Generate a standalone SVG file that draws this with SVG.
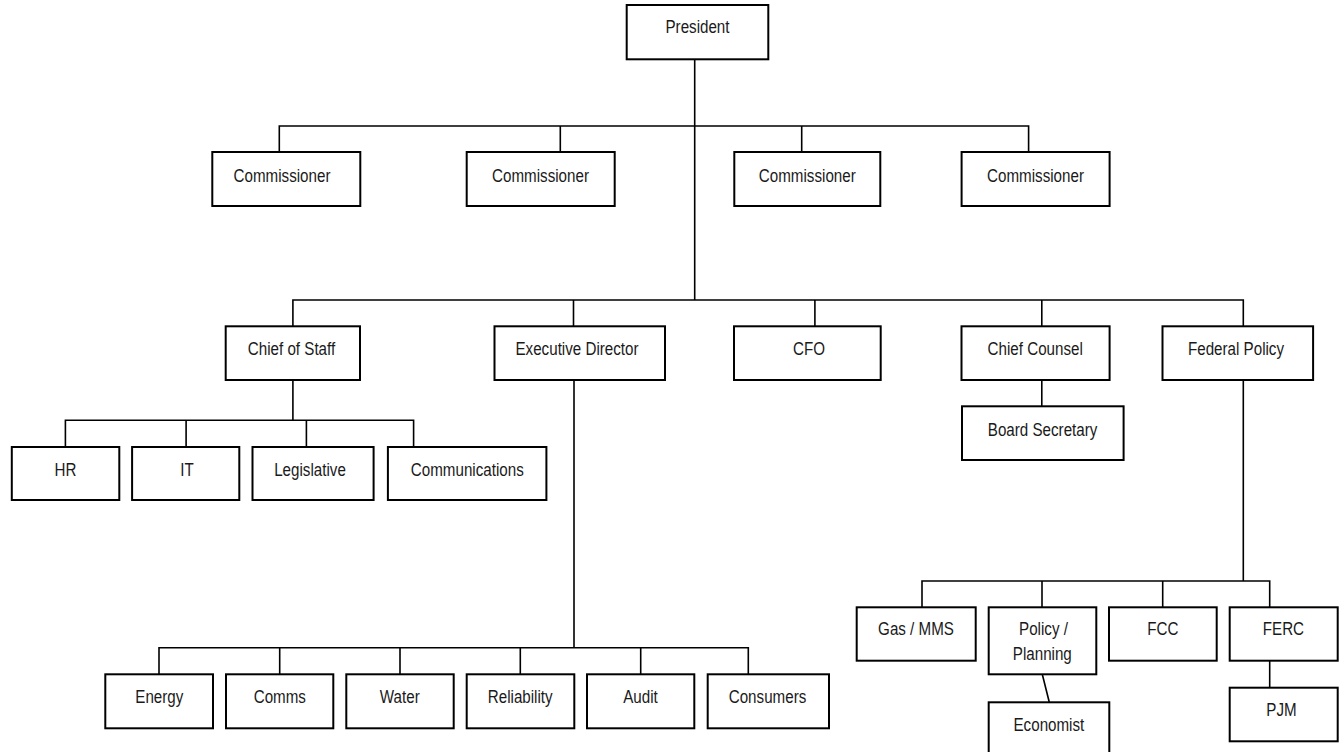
<svg xmlns="http://www.w3.org/2000/svg" width="1342" height="752" viewBox="0 0 1342 752">
<style>
rect{fill:#fff;stroke:#000;stroke-width:2}
#connectors path{fill:none;stroke:#000;stroke-width:1.6}
text{font-family:"Liberation Sans",Arial,sans-serif;font-size:18.5px;text-anchor:middle;fill:#1a1a1a}
</style>
<rect x="0" y="0" width="1342" height="752" style="stroke:none"/>
<g id="connectors">
<path d="M694.7 59.3V300M279.3 152V126H1028.6V152M560.3 126V152M801.7 126V152"/>
<path d="M292.9 326.3V300H1243.3V326.3M573.5 300V326.3M814.9 300V326.3M1041.8 300V326.3"/>
<path d="M292.9 380V420.3M65.4 447V420.3H413.6V447M186.1 420.3V447M306.4 420.3V447"/>
<path d="M574 380V647.7M159 674.3V647.7H748.3V674.3M279.7 647.7V674.3M400 647.7V674.3M520.3 647.7V674.3M640.7 647.7V674.3"/>
<path d="M1041.8 380V406.3"/>
<path d="M1243.3 380V581M922 607.3V581H1269.7V607.3M1042 581V607.3M1162.7 581V607.3"/>
<path d="M1269.7 660.7V687.7"/>
<path d="M1042.3 674.3L1049.3 702.3"/>
</g>
<g id="president"><rect x="626.7" y="5" width="141.6" height="54.3"/><text transform="translate(697.5,33.3) scale(0.82,1)">President</text></g>
<g id="commissioner1"><rect x="212.3" y="152" width="148" height="54"/><text transform="translate(282,181.5) scale(0.82,1)">Commissioner</text></g>
<g id="commissioner2"><rect x="466.7" y="152" width="148" height="54"/><text transform="translate(540.5,181.5) scale(0.82,1)">Commissioner</text></g>
<g id="commissioner3"><rect x="734.3" y="152" width="146" height="54"/><text transform="translate(807.3,181.5) scale(0.82,1)">Commissioner</text></g>
<g id="commissioner4"><rect x="961.6" y="152" width="148" height="54"/><text transform="translate(1035.5,181.5) scale(0.82,1)">Commissioner</text></g>
<g id="chief-of-staff"><rect x="225.7" y="326.3" width="134.3" height="53.7"/><text transform="translate(291.5,355) scale(0.82,1)">Chief of Staff</text></g>
<g id="executive-director"><rect x="494.5" y="326.3" width="170.5" height="53.7"/><text transform="translate(577,355) scale(0.82,1)">Executive Director</text></g>
<g id="cfo"><rect x="734" y="326.3" width="146.7" height="53.7"/><text transform="translate(809,355) scale(0.82,1)">CFO</text></g>
<g id="chief-counsel"><rect x="961.5" y="326.3" width="148.1" height="53.7"/><text transform="translate(1035.2,355) scale(0.82,1)">Chief Counsel</text></g>
<g id="federal-policy"><rect x="1162.5" y="326.3" width="150.6" height="53.7"/><text transform="translate(1236,355) scale(0.82,1)">Federal Policy</text></g>
<g id="board-secretary"><rect x="962" y="406.3" width="161.6" height="53.7"/><text transform="translate(1042.6,435.5) scale(0.82,1)">Board Secretary</text></g>
<g id="hr"><rect x="11.8" y="447" width="107.5" height="53"/><text transform="translate(65.5,475.5) scale(0.82,1)">HR</text></g>
<g id="it"><rect x="132.1" y="447" width="107.2" height="53"/><text transform="translate(187,475.5) scale(0.82,1)">IT</text></g>
<g id="legislative"><rect x="252.5" y="447" width="121.1" height="53"/><text transform="translate(310,475.5) scale(0.82,1)">Legislative</text></g>
<g id="communications"><rect x="387.9" y="447" width="158.5" height="53"/><text transform="translate(467.3,475.5) scale(0.82,1)">Communications</text></g>
<g id="energy"><rect x="105.3" y="674.3" width="107.7" height="54"/><text transform="translate(159.3,702.7) scale(0.82,1)">Energy</text></g>
<g id="comms"><rect x="226" y="674.3" width="107.3" height="54"/><text transform="translate(279.8,702.7) scale(0.82,1)">Comms</text></g>
<g id="water"><rect x="346.3" y="674.3" width="107.4" height="54"/><text transform="translate(399.8,702.7) scale(0.82,1)">Water</text></g>
<g id="reliability"><rect x="466.7" y="674.3" width="107.6" height="54"/><text transform="translate(520.2,702.7) scale(0.82,1)">Reliability</text></g>
<g id="audit"><rect x="587" y="674.3" width="107.3" height="54"/><text transform="translate(640.5,702.7) scale(0.82,1)">Audit</text></g>
<g id="consumers"><rect x="707.7" y="674.3" width="121.3" height="54"/><text transform="translate(767.5,702.7) scale(0.82,1)">Consumers</text></g>
<g id="gas-mms"><rect x="856.7" y="607.3" width="119" height="53.4"/><text transform="translate(916,635.3) scale(0.82,1)">Gas / MMS</text></g>
<g id="policy-planning"><rect x="988.7" y="607.3" width="107.6" height="67"/><text transform="translate(1043.5,635.3) scale(0.82,1)">Policy /</text><text transform="translate(1042.3,659.5) scale(0.82,1)">Planning</text></g>
<g id="fcc"><rect x="1109" y="607.3" width="107.7" height="53.4"/><text transform="translate(1162.8,635.3) scale(0.82,1)">FCC</text></g>
<g id="ferc"><rect x="1229.7" y="607.3" width="108" height="53.4"/><text transform="translate(1283.4,635.3) scale(0.82,1)">FERC</text></g>
<g id="pjm"><rect x="1229.7" y="687.7" width="108" height="53.6"/><text transform="translate(1281.5,716.2) scale(0.82,1)">PJM</text></g>
<g id="economist"><rect x="988.7" y="702.3" width="120.6" height="54"/><text transform="translate(1048.9,730.7) scale(0.82,1)">Economist</text></g>
</svg>
